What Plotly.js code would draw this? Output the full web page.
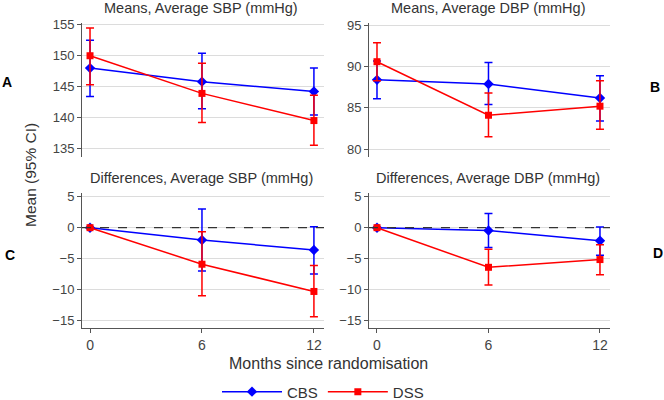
<!DOCTYPE html>
<html><head><meta charset="utf-8">
<script src="https://cdn.plot.ly/plotly-3.0.1.min.js"></script>
<style>html,body{margin:0;padding:0;background:#fff;overflow:hidden}#chart{width:664px;height:400px}</style>
</head><body><div id="chart"></div>
<script>
var months = [0, 6, 12];
var seriesNames = ['CBS', 'DSS'];
// Panel A: Means, SBP
var sbpMeanCBS = [148.0, 145.8, 144.2];
var sbpLowCBS  = [143.4, 141.4, 140.4];
var sbpHighCBS = [152.5, 150.4, 148.0];
var sbpMeanDSS = [150.0, 143.9, 139.5];
var sbpLowDSS  = [145.3, 139.2, 135.5];
var sbpHighDSS = [154.5, 148.8, 143.6];
// Panel B: Means, DBP
var dbpMeanCBS = [88.4, 87.9, 86.2];
var dbpLowCBS  = [86.1, 85.4, 83.4];
var dbpHighCBS = [90.7, 90.5, 88.9];
var dbpMeanDSS = [90.6, 84.1, 85.2];
var dbpLowDSS  = [88.3, 81.5, 82.4];
var dbpHighDSS = [92.9, 86.8, 88.3];
// Panel C: Differences, SBP
var sbpDiffCBS = [0, -2.0, -3.6];
var sbpDiffLowCBS  = [null, -7.0, -7.5];
var sbpDiffHighCBS = [null, 3.0, 0.15];
var sbpDiffDSS = [0, -5.9, -10.3];
var sbpDiffLowDSS  = [null, -11.0, -14.4];
var sbpDiffHighDSS = [null, -0.65, -6.1];
// Panel D: Differences, DBP
var dbpDiffCBS = [0, -0.45, -2.1];
var dbpDiffLowCBS  = [null, -3.2, -4.45];
var dbpDiffHighCBS = [null, 2.3, 0.1];
var dbpDiffDSS = [0, -6.4, -5.15];
var dbpDiffLowDSS  = [null, -9.25, -7.6];
var dbpDiffHighDSS = [null, -3.5, -2.75];

var panelTitles = ['Means, Average SBP (mmHg)', 'Means, Average DBP (mmHg)',
                   'Differences, Average SBP (mmHg)', 'Differences, Average DBP (mmHg)'];
var panelLetters = ['A', 'B', 'C', 'D'];
var xTickLabels = ['0', '6', '12'];

var BLUE = '#0000ff', RED = '#ff0000';
var FONT = 'Liberation Sans, Arial, sans-serif';

function errs(mean, lo, hi) {
  return {
    type: 'data', symmetric: false,
    array: mean.map(function (m, i) { return hi[i] == null ? null : hi[i] - m; }),
    arrayminus: mean.map(function (m, i) { return lo[i] == null ? null : m - lo[i]; }),
    thickness: 1.5, width: 4
  };
}
function tr(mean, lo, hi, k, ax, show) {
  var col = k === 0 ? BLUE : RED;
  return {
    x: months, y: mean, type: 'scatter', mode: 'lines+markers',
    name: seriesNames[k], legendgroup: seriesNames[k], showlegend: show,
    xaxis: 'x' + ax, yaxis: 'y' + ax,
    line: {color: col, width: 1.5},
    marker: {color: col, size: k === 0 ? 8 : 7, symbol: k === 0 ? 'diamond' : 'square'},
    error_y: Object.assign(errs(mean, lo, hi), {color: col})
  };
}
var data = [
  tr(sbpMeanCBS, sbpLowCBS, sbpHighCBS, 0, '', true),
  tr(sbpMeanDSS, sbpLowDSS, sbpHighDSS, 1, '', true),
  tr(dbpMeanCBS, dbpLowCBS, dbpHighCBS, 0, '2', false),
  tr(dbpMeanDSS, dbpLowDSS, dbpHighDSS, 1, '2', false),
  tr(sbpDiffCBS, sbpDiffLowCBS, sbpDiffHighCBS, 0, '3', false),
  tr(sbpDiffDSS, sbpDiffLowDSS, sbpDiffHighDSS, 1, '3', false),
  tr(dbpDiffCBS, dbpDiffLowCBS, dbpDiffHighCBS, 0, '4', false),
  tr(dbpDiffDSS, dbpDiffLowDSS, dbpDiffHighDSS, 1, '4', false)
];

var W = 664, H = 400;
var xL = [82 / W, 324 / W], xR = [369 / W, 610 / W];
var yT = [1 - 157 / H, 1 - 23 / H], yB = [1 - 328 / H, 1 - 193 / H];
var xr = [-0.43, 12.54];

function xax(dom, anchor, bottom) {
  return {
    domain: dom, anchor: anchor, range: xr, showgrid: false, zeroline: false,
    tickvals: months, ticktext: xTickLabels, showticklabels: bottom,
    showline: bottom, linecolor: '#555', linewidth: 1,
    ticks: bottom ? 'outside' : '', ticklen: 4, tickcolor: '#555',
    tickfont: {family: FONT, size: 14, color: '#444'}
  };
}
function yax(dom, anchor, range, dtick) {
  return {
    domain: dom, anchor: anchor, range: range, dtick: dtick, zeroline: false,
    showgrid: true, gridcolor: '#dcdcdc', gridwidth: 1,
    showline: true, linecolor: '#555', linewidth: 1,
    ticks: 'outside', ticklen: 4, tickcolor: '#555',
    tickfont: {family: FONT, size: 13, color: '#444'}
  };
}

function ann(text, px, py, font, extra) {
  return Object.assign({text: text, x: px / W, y: 1 - py / H, xref: 'paper', yref: 'paper',
    xanchor: 'center', yanchor: 'middle', showarrow: false, font: font}, extra || {});
}
var titleFont = {family: FONT, size: 14.5, color: '#333'};
var letterFont = {family: FONT, size: 14, color: '#000'};
var annotations = [
  ann(panelTitles[0], 201, 8, titleFont),
  ann(panelTitles[1], 488, 8, titleFont),
  ann(panelTitles[2], 201, 178, titleFont),
  ann(panelTitles[3], 488, 178, titleFont),
  ann('<b>' + panelLetters[0] + '</b>', 7, 82, letterFont),
  ann('<b>' + panelLetters[1] + '</b>', 655, 87, letterFont),
  ann('<b>' + panelLetters[2] + '</b>', 10, 255, letterFont),
  ann('<b>' + panelLetters[3] + '</b>', 658, 253, letterFont),
  ann('Mean (95% CI)', 30, 175, {family: FONT, size: 15.5, color: '#333'}, {textangle: -90}),
  ann('Months since randomisation', 328, 363, {family: FONT, size: 16, color: '#333'})
];
var shapes = ['3', '4'].map(function (a) {
  return {type: 'line', xref: 'x' + a + ' domain', yref: 'y' + a, x0: 0, x1: 1, y0: 0, y1: 0,
          line: {color: '#333', width: 1.2, dash: 'dash'}};
});

var layout = {
  width: W, height: H, margin: {l: 0, r: 0, t: 0, b: 0, autoexpand: false},
  paper_bgcolor: '#fff', plot_bgcolor: '#fff',
  font: {family: FONT},
  showlegend: true,
  legend: {orientation: 'h', x: 323 / W, xanchor: 'center', y: 0, yanchor: 'bottom',
           bgcolor: 'rgba(0,0,0,0)',
           font: {family: FONT, size: 15, color: '#333'}, itemwidth: 60, tracegroupgap: 0},
  xaxis: xax(xL, 'y', false), yaxis: yax(yT, 'x', [133.6, 155.3], 5),
  xaxis2: xax(xR, 'y2', false), yaxis2: yax(yT, 'x2', [79.03, 95.3], 5),
  xaxis3: xax(xL, 'y3', true), yaxis3: yax(yB, 'x3', [-16.2, 5.6], 5),
  xaxis4: xax(xR, 'y4', true), yaxis4: yax(yB, 'x4', [-16.2, 5.6], 5),
  annotations: annotations, shapes: shapes
};
Plotly.newPlot('chart', data, layout, {staticPlot: true}).then(function (gd) {
  // plotly keeps the legend inside the figure; nudge it down to where the reference has it
  var lg = gd.querySelector('.legend');
  var txt = gd.querySelector('.legend .legendtext');
  if (!lg || !txt) return;
  var r = txt.getBoundingClientRect();
  var dy = 392 - (r.top + r.height / 2);
  var m = /translate\(\s*([-\d.e]+)[ ,]+([-\d.e]+)\s*\)/.exec(lg.getAttribute('transform') || '');
  if (m) lg.setAttribute('transform', 'translate(' + m[1] + ',' + (parseFloat(m[2]) + dy) + ')');
});
</script></body></html>
